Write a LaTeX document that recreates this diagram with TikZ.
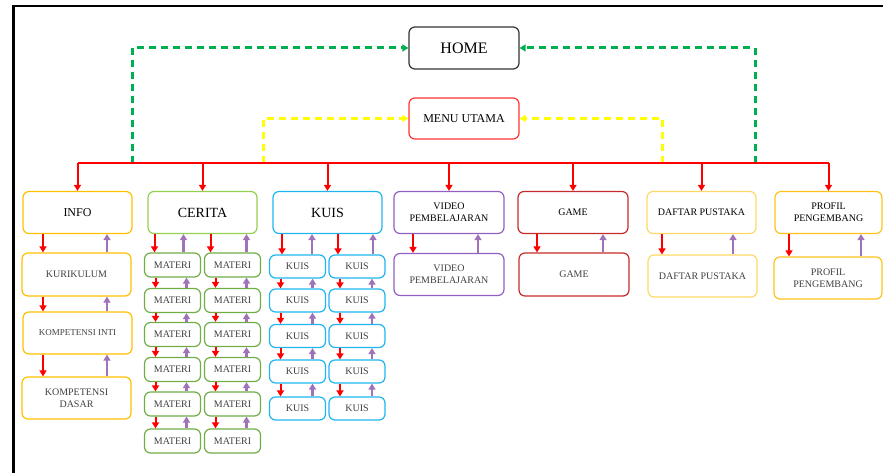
\documentclass[tikz,border=0pt]{standalone}
\usepackage{fontspec}
\setmainfont{Liberation Serif}
\usetikzlibrary{arrows.meta}
\definecolor{infoc}{HTML}{FFC000}
\definecolor{ceritac}{HTML}{92D050}
\definecolor{materic}{HTML}{70AD47}
\definecolor{kuisc}{HTML}{1FB5EE}
\definecolor{videoc}{HTML}{9260C0}
\definecolor{gamec}{HTML}{C42B2B}
\definecolor{daftarc}{HTML}{FFD966}
\definecolor{profilc}{HTML}{FFC21A}
\definecolor{arrred}{HTML}{FF0000}
\definecolor{arrpurple}{HTML}{A072B8}
\definecolor{dashgreen}{HTML}{00B050}
\definecolor{dashyellow}{HTML}{FFFF00}
\definecolor{txtgray}{HTML}{404040}

\begin{document}
\begin{tikzpicture}[x=1pt, y=-1pt,
  menubox/.style={draw, rounded corners=6pt, line width=1.2pt, minimum width=109pt, minimum height=42pt, inner sep=1pt, align=center, font=\fontsize{10}{12}\selectfont, text=txtgray},
  topbox/.style={menubox, text=black},
  subbox/.style={menubox, minimum width=56pt, minimum height=24pt},
  downarr/.style={draw=arrred, line width=2pt, -{Triangle[length=6pt,width=7pt]}},
  uparr/.style={draw=arrpurple, line width=2.2pt, -{Triangle[length=6pt,width=7pt]}},
  busline/.style={draw=arrred, line width=2pt},
  greendash/.style={draw=dashgreen, line width=3pt, dash pattern=on 7pt off 5pt, -{Triangle[length=6pt,width=7pt]}},
  yellowdash/.style={draw=dashyellow, line width=3pt, dash pattern=on 7pt off 5pt, -{Triangle[length=6pt,width=7pt]}}]
\useasboundingbox (0,0) rectangle (883,473);
\draw[line width=2.8pt] (13.7,474) -- (13.7,6) -- (884,6);

\node[topbox, draw=black!80, minimum width=110pt, font=\fontsize{16}{18}\selectfont] (home) at (464,48) {HOME};
\node[topbox, draw=red!80, minimum width=110pt, minimum height=41pt, font=\fontsize{12}{14}\selectfont] (menu) at (464,118.5) {MENU UTAMA};

\node[topbox, draw=infoc, font=\fontsize{12}{14}\selectfont] (info) at (77.5,212.5) {INFO};
\node[topbox, draw=ceritac, font=\fontsize{14}{16}\selectfont] (cerita) at (202.5,212.5) {CERITA};
\node[topbox, draw=kuisc, font=\fontsize{14}{16}\selectfont] (kuis) at (327.5,212.5) {KUIS};
\node[topbox, draw=videoc, minimum width=110pt] (video) at (449,212.5) {VIDEO\\PEMBELAJARAN};
\node[topbox, draw=gamec, minimum width=110pt] (game) at (573,212.5) {GAME};
\node[topbox, draw=daftarc] (daftar) at (701.5,212.5) {DAFTAR PUSTAKA};
\node[topbox, draw=profilc, minimum width=107pt] (profil) at (828.5,212.5) {PROFIL\\PENGEMBANG};

\coordinate (busy) at (0,163);
\coordinate (gL) at (132,163);
\coordinate (gR) at (755,163);
\coordinate (yL) at (263,163);
\coordinate (yR) at (662,163);
\draw[greendash] (gL) |- (home.west);
\draw[greendash] (gR) |- (home.east);
\draw[yellowdash] (yL) |- (menu.west);
\draw[yellowdash] (yR) |- (menu.east);
\draw[busline] (info.north |- busy) -- (profil.north |- busy);
\foreach \n in {info,cerita,kuis,video,game,daftar,profil}
  \draw[downarr] (\n.north |- busy) -- (\n.north);

\node[menubox, draw=infoc, minimum height=43pt] (kurikulum) at (76.5,274.5) {KURIKULUM};
\node[menubox, draw=infoc, font=\fontsize{9}{11}\selectfont] (kinti) at (77.5,333) {KOMPETENSI INTI};
\node[menubox, draw=infoc] (kdasar) at (76.5,398) {KOMPETENSI\\DASAR};
\node[menubox, draw=videoc, minimum width=110pt] (video2) at (449,274.5) {VIDEO\\PEMBELAJARAN};
\node[menubox, draw=gamec, minimum width=110pt, minimum height=43pt] (game2) at (574,274.5) {GAME};
\node[menubox, draw=daftarc] (daftar2) at (702.5,276) {DAFTAR PUSTAKA};
\node[menubox, draw=profilc, minimum width=108pt] (profil2) at (828,278) {PROFIL\\PENGEMBANG};

\foreach \r/\y in {1/265,2/300.5,3/334.5,4/369.5,5/404,6/441}
  \foreach \c/\x in {1/172.5,2/232.5}
    \node[subbox, draw=materic] (m\r\c) at (\x,\y) {MATERI};
\foreach \r/\y in {1/266.5,2/300.5,3/336,4/371.5,5/408.5}
  \foreach \c/\x in {1/297.5,2/357}
    \node[subbox, draw=kuisc, minimum height=23pt] (k\r\c) at (\x,\y) {KUIS};

\foreach \p/\c/\a/\b in {info/kurikulum/-33.5/30.5, kurikulum/kinti/-34.5/29.5, kinti/kdasar/-33.5/30.5,
    video/video2/-36/29, game/game2/-37/29, daftar/daftar2/-40.5/30.5, profil/profil2/-39/33,
    cerita/m11/-18/11, cerita/m12/-22/14, kuis/k11/-15.5/14.5, kuis/k12/-19/16}
{
  \draw[downarr] ([xshift=\a]\c.north |- \p.south) -- ([xshift=\a]\c.north);
  \draw[uparr] ([xshift=\b]\c.north) -- ([xshift=\b]\c.north |- \p.south);
}
\foreach \r/\s in {1/2,2/3,3/4,4/5,5/6}
  \foreach \c in {1,2}
  {
    \draw[downarr] ([xshift=-17]m\s\c.north |- m\r\c.south) -- ([xshift=-17]m\s\c.north);
    \draw[uparr] ([xshift=14]m\s\c.north) -- ([xshift=14]m\s\c.north |- m\r\c.south);
  }
\foreach \r/\s in {1/2,2/3,3/4,4/5}
  \foreach \c in {1,2}
  {
    \draw[downarr] ([xshift=-17]k\s\c.north |- k\r\c.south) -- ([xshift=-17]k\s\c.north);
    \draw[uparr] ([xshift=15]k\s\c.north) -- ([xshift=15]k\s\c.north |- k\r\c.south);
  }
\end{tikzpicture}
\end{document}
